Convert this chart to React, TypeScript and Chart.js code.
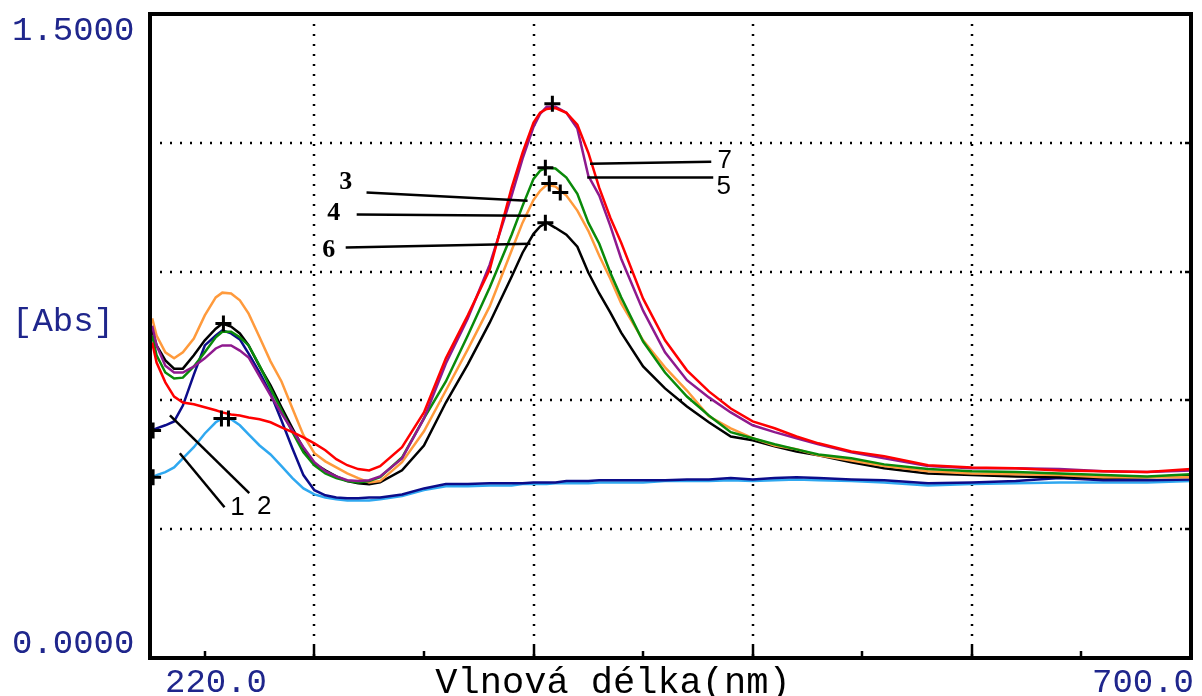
import React, { useEffect, useRef } from "react";
import { Chart, registerables } from "chart.js";

Chart.register(...registerables);

// ---------- data (wavelength in nm, absorbance) ----------
const wavelengths = [
  226, 228, 232, 236, 240, 245, 250, 255, 258, 262, 266, 270, 275, 280, 285, 290, 295, 300, 305, 310,
  315, 320, 325, 330, 340, 350, 360, 370, 380, 390, 395, 400, 403, 406, 410, 415, 420, 425, 430, 435,
  440, 450, 460, 470, 480, 490, 500, 510, 520, 530, 545, 560, 580, 600, 620, 640, 660, 680, 700,
];

// 1 - light blue
const absSample1 = [
  0.421, 0.426, 0.433, 0.444, 0.465, 0.491, 0.523, 0.549, 0.558, 0.556, 0.542, 0.521, 0.495, 0.474, 0.447, 0.419, 0.395, 0.381, 0.374, 0.370,
  0.367, 0.367, 0.367, 0.370, 0.377, 0.391, 0.400, 0.400, 0.402, 0.402, 0.405, 0.405, 0.405, 0.405, 0.407, 0.407, 0.407, 0.407, 0.409, 0.409,
  0.409, 0.409, 0.412, 0.412, 0.412, 0.414, 0.412, 0.414, 0.416, 0.414, 0.412, 0.409, 0.402, 0.405, 0.407, 0.409, 0.409, 0.409, 0.412,
];
// 2 - navy
const absSample2 = [
  0.530, 0.535, 0.542, 0.551, 0.588, 0.660, 0.728, 0.751, 0.763, 0.756, 0.742, 0.709, 0.665, 0.616, 0.553, 0.488, 0.426, 0.391, 0.379, 0.374,
  0.372, 0.372, 0.374, 0.374, 0.381, 0.395, 0.405, 0.405, 0.407, 0.407, 0.407, 0.409, 0.409, 0.409, 0.409, 0.412, 0.412, 0.412, 0.414, 0.414,
  0.414, 0.414, 0.414, 0.416, 0.416, 0.419, 0.416, 0.419, 0.421, 0.419, 0.416, 0.414, 0.407, 0.409, 0.412, 0.419, 0.414, 0.414, 0.416,
];
// 3 - green
const absSample3 = [
  0.751, 0.705, 0.665, 0.651, 0.653, 0.679, 0.712, 0.747, 0.760, 0.760, 0.747, 0.728, 0.681, 0.628, 0.577, 0.526, 0.479, 0.449, 0.430, 0.419,
  0.412, 0.409, 0.412, 0.421, 0.467, 0.558, 0.644, 0.751, 0.863, 0.986, 1.053, 1.116, 1.135, 1.142, 1.140, 1.119, 1.081, 1.014, 0.965, 0.898,
  0.840, 0.737, 0.665, 0.609, 0.565, 0.526, 0.512, 0.498, 0.486, 0.474, 0.465, 0.451, 0.440, 0.435, 0.433, 0.430, 0.426, 0.423, 0.428,
];
// 4 - orange
const absSample4 = [
  0.791, 0.751, 0.712, 0.698, 0.712, 0.744, 0.798, 0.840, 0.851, 0.849, 0.833, 0.802, 0.747, 0.691, 0.644, 0.581, 0.519, 0.477, 0.458, 0.444,
  0.430, 0.419, 0.409, 0.412, 0.456, 0.528, 0.623, 0.719, 0.819, 0.949, 1.014, 1.067, 1.088, 1.102, 1.098, 1.077, 1.042, 0.995, 0.937, 0.884,
  0.826, 0.740, 0.677, 0.623, 0.563, 0.535, 0.512, 0.495, 0.486, 0.472, 0.460, 0.447, 0.435, 0.430, 0.428, 0.426, 0.421, 0.421, 0.421,
];
// 5 - purple
const absSample5 = [
  0.774, 0.728, 0.681, 0.665, 0.665, 0.679, 0.698, 0.721, 0.728, 0.728, 0.716, 0.700, 0.656, 0.612, 0.570, 0.530, 0.491, 0.456, 0.435, 0.423,
  0.414, 0.412, 0.414, 0.423, 0.465, 0.558, 0.686, 0.791, 0.916, 1.077, 1.163, 1.237, 1.267, 1.284, 1.284, 1.270, 1.233, 1.123, 1.077, 1.007,
  0.930, 0.809, 0.712, 0.647, 0.607, 0.572, 0.542, 0.526, 0.512, 0.498, 0.479, 0.465, 0.447, 0.442, 0.442, 0.440, 0.435, 0.433, 0.437,
];
// 6 - black
const absSample6 = [
  0.763, 0.728, 0.693, 0.674, 0.674, 0.705, 0.740, 0.767, 0.779, 0.772, 0.756, 0.728, 0.679, 0.635, 0.584, 0.535, 0.488, 0.453, 0.437, 0.423,
  0.412, 0.407, 0.405, 0.409, 0.437, 0.495, 0.595, 0.684, 0.781, 0.888, 0.944, 0.988, 1.005, 1.014, 1.002, 0.986, 0.958, 0.898, 0.849, 0.805,
  0.758, 0.679, 0.628, 0.586, 0.549, 0.516, 0.507, 0.493, 0.481, 0.472, 0.456, 0.442, 0.430, 0.426, 0.423, 0.421, 0.419, 0.421, 0.426,
];
// 7 - red
const absSample7 = [
  0.735, 0.688, 0.642, 0.609, 0.595, 0.591, 0.584, 0.577, 0.572, 0.567, 0.565, 0.560, 0.556, 0.549, 0.537, 0.526, 0.514, 0.500, 0.484, 0.463,
  0.449, 0.440, 0.437, 0.447, 0.491, 0.572, 0.698, 0.798, 0.905, 1.095, 1.177, 1.247, 1.270, 1.279, 1.281, 1.270, 1.242, 1.177, 1.095, 1.026,
  0.967, 0.837, 0.740, 0.670, 0.621, 0.581, 0.551, 0.535, 0.516, 0.500, 0.481, 0.470, 0.449, 0.444, 0.442, 0.437, 0.435, 0.433, 0.440,
];

const seriesValues = [absSample1, absSample2, absSample3, absSample4, absSample5, absSample6, absSample7];
const seriesLabels = ["1", "2", "3", "4", "5", "6", "7"];
const seriesColors = ["#2fa8f0", "#0c0c8a", "#0a8a0a", "#ff9a3c", "#8e1a8e", "#000000", "#ff0000"];
const seriesOrder = [7, 6, 3, 4, 2, 5, 1];

// cursor "+" markers
const markerX = [226.4, 226.4, 257.6, 260.8, 258.5, 408.6, 405.4, 407.2, 412.2, 405.4];
const markerY = [0.530, 0.421, 0.558, 0.558, 0.779, 1.291, 1.142, 1.105, 1.084, 1.014];

// curve labels with leader lines (data coordinates)
const calloutText = ["1", "2", "3", "4", "5", "6", "7"];
const calloutTextX = [264.9, 277.1, 314.3, 308.9, 486.8, 306.6, 487.2];
const calloutTextY = [0.349, 0.351, 1.107, 1.035, 1.098, 0.949, 1.158];
const leaderFromX = [238.6, 234.1, 323.8, 319.3, 482.0, 314.3, 481.1];
const leaderFromY = [0.477, 0.565, 1.084, 1.033, 1.119, 0.956, 1.156];
const leaderToX = [259.0, 270.3, 397.3, 398.6, 424.5, 398.6, 425.8];
const leaderToY = [0.351, 0.384, 1.065, 1.030, 1.119, 0.965, 1.151];
const serifCallouts = ["3", "4", "6"];

// axes
const xMin = 225;
const xMax = 700;
const yMin = 0;
const yMax = 1.5;
const xGridValues = [300, 400, 500, 600];
const yGridValues = [0.3, 0.6, 0.9, 1.2];
const xMinorTickValues = [250, 350, 450, 550, 650];
const yTopLabel = "1.5000";
const yBottomLabel = "0.0000";
const yUnitLabel = "[Abs]";
const xStartLabel = "220.0";
const xEndLabel = "700.0";
const xTitle = "Vlnová délka(nm)";

const LABEL_BLUE = "#1f268c";
const MONO = '"Liberation Mono", "DejaVu Sans Mono", monospace';

const decorPlugin = {
  id: "decor",
  beforeDatasetsDraw(chart: any) {
    const { ctx, chartArea: a, scales } = chart;
    const x = scales.x;
    const y = scales.y;
    ctx.save();
    ctx.strokeStyle = "#000";
    ctx.lineWidth = 2.5;
    ctx.setLineDash([2, 8]);
    xGridValues.forEach((v) => {
      const px = Math.round(x.getPixelForValue(v));
      ctx.beginPath();
      ctx.moveTo(px, a.top);
      ctx.lineTo(px, a.bottom);
      ctx.stroke();
    });
    yGridValues.forEach((v) => {
      const py = Math.round(y.getPixelForValue(v));
      ctx.beginPath();
      ctx.moveTo(a.left, py);
      ctx.lineTo(a.right, py);
      ctx.stroke();
    });
    ctx.restore();
  },
  afterDatasetsDraw(chart: any) {
    const { ctx, chartArea: a, scales } = chart;
    const x = scales.x;
    const y = scales.y;
    ctx.save();
    // frame
    ctx.strokeStyle = "#000";
    ctx.lineWidth = 4;
    ctx.strokeRect(a.left, a.top, a.right - a.left, a.bottom - a.top);
    // bottom ticks
    ctx.lineWidth = 2.5;
    xGridValues.forEach((v) => {
      const px = Math.round(x.getPixelForValue(v));
      ctx.beginPath();
      ctx.moveTo(px, a.bottom);
      ctx.lineTo(px, a.bottom - 12);
      ctx.stroke();
    });
    xMinorTickValues.forEach((v) => {
      const px = Math.round(x.getPixelForValue(v));
      ctx.beginPath();
      ctx.moveTo(px, a.bottom);
      ctx.lineTo(px, a.bottom - 7);
      ctx.stroke();
    });
    yGridValues.forEach((v) => {
      const py = Math.round(y.getPixelForValue(v));
      ctx.beginPath();
      ctx.moveTo(a.right, py);
      ctx.lineTo(a.right - 6, py);
      ctx.stroke();
    });
    // leader lines + callouts
    ctx.lineWidth = 2.5;
    calloutText.forEach((t, i) => {
      ctx.beginPath();
      ctx.moveTo(x.getPixelForValue(leaderFromX[i]), y.getPixelForValue(leaderFromY[i]));
      ctx.lineTo(x.getPixelForValue(leaderToX[i]), y.getPixelForValue(leaderToY[i]));
      ctx.stroke();
      const serif = serifCallouts.includes(t);
      ctx.font = serif ? 'bold 26px "Liberation Serif", serif' : '26px "Liberation Sans", sans-serif';
      ctx.fillStyle = "#000";
      ctx.textAlign = "center";
      ctx.textBaseline = "middle";
      ctx.fillText(t, x.getPixelForValue(calloutTextX[i]), y.getPixelForValue(calloutTextY[i]));
    });
    ctx.restore();
  },
  afterDraw(chart: any) {
    const { ctx, chartArea: a, scales } = chart;
    const y = scales.y;
    ctx.save();
    ctx.font = `34px ${MONO}`;
    ctx.fillStyle = LABEL_BLUE;
    ctx.textBaseline = "middle";
    ctx.textAlign = "left";
    ctx.fillText(yTopLabel, 12, y.getPixelForValue(yMax) + 17);
    ctx.fillText(yBottomLabel, 12, y.getPixelForValue(yMin) - 14);
    ctx.fillText(yUnitLabel, 12, a.top + 308);
    ctx.fillText(xStartLabel, a.left + 15, a.bottom + 25);
    ctx.textAlign = "right";
    ctx.fillText(xEndLabel, a.right + 3, a.bottom + 25);
    ctx.fillStyle = "#000";
    ctx.textAlign = "center";
    ctx.font = `37px ${MONO}`;
    ctx.fillText(xTitle, a.left + 463, a.bottom + 25);
    ctx.restore();
  },
};

export default function App() {
  const canvasRef = useRef<HTMLCanvasElement | null>(null);

  useEffect(() => {
    if (!canvasRef.current) return;
    const datasets: any[] = seriesValues.map((vals, si) => ({
      label: seriesLabels[si],
      data: wavelengths.map((w, i) => ({ x: w, y: vals[i] })),
      borderColor: seriesColors[si],
      backgroundColor: seriesColors[si],
      borderWidth: 2.5,
      pointRadius: 0,
      tension: 0,
      fill: false,
      order: seriesOrder[si],
    }));
    datasets.push({
      label: "markers",
      data: markerX.map((mx, i) => ({ x: mx, y: markerY[i] })),
      showLine: false,
      pointStyle: "cross",
      pointRadius: 8,
      borderColor: "#000",
      backgroundColor: "#000",
      pointBorderWidth: 3,
      order: 0,
    });

    const chart = new Chart(canvasRef.current, {
      type: "line",
      data: { datasets },
      options: {
        animation: false,
        responsive: false,
        maintainAspectRatio: false,
        devicePixelRatio: 1,
        layout: { padding: { left: 150, top: 14, right: 4, bottom: 38 } },
        plugins: { legend: { display: false }, tooltip: { enabled: false } },
        scales: {
          x: { type: "linear", min: xMin, max: xMax, display: false },
          y: { type: "linear", min: yMin, max: yMax, display: false },
        },
      },
      plugins: [decorPlugin],
    });
    return () => chart.destroy();
  }, []);

  return (
    <div style={{ position: "fixed", left: 0, top: 0, width: 1202, height: 696, background: "#fff" }}>
      <canvas ref={canvasRef} width={1202} height={696} style={{ width: 1202, height: 696, display: "block" }} />
    </div>
  );
}
